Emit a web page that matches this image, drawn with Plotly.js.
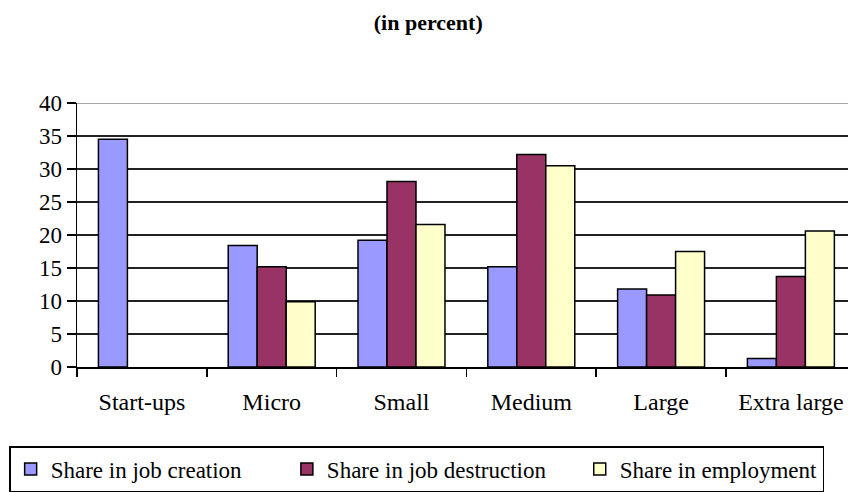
<!DOCTYPE html>
<html>
<head>
<meta charset="utf-8">
<script src="https://cdn.plot.ly/plotly-3.0.1.min.js"></script>
<style>html,body{margin:0;padding:0;background:#fff;}#chart{width:848px;height:492px;}</style>
</head>
<body>
<div id="chart"></div>
<script>
const categories = ["Start-ups", "Micro", "Small", "Medium", "Large", "Extra large"];
const jobCreation = [34.5, 18.4, 19.2, 15.2, 11.8, 1.3];
const jobDestruction = [null, 15.2, 28.1, 32.2, 10.9, 13.7];
const employment = [null, 9.9, 21.6, 30.5, 17.5, 20.6];
const seriesNames = ["Share in job creation", "Share in job destruction", "Share in employment"];
const yTicks = [0, 5, 10, 15, 20, 25, 30, 35, 40];

const serif = "Liberation Serif";
const colors = ["#9999FF", "#993366", "#FFFFCC"];
const values = [jobCreation, jobDestruction, employment];
// trailing non-breaking spaces widen the legend entries to match the reference spacing
const legendPad = [7, 5, 0];

const traces = values.map((v, i) => ({
  type: "bar",
  x: categories,
  y: v,
  name: seriesNames[i] + "\u00a0".repeat(legendPad[i]),
  marker: {color: colors[i], line: {color: "#000", width: 1.5}}
}));

const layout = {
  width: 848, height: 492,
  margin: {l: 77, r: 0, t: 103, b: 119},
  paper_bgcolor: "#fff", plot_bgcolor: "#fff",
  font: {family: serif, size: 23, color: "#000"},
  title: {text: "<b>(in percent)</b>", font: {family: serif, size: 22, color: "#000"}, x: 0.505, xanchor: "center", y: 0.955, yanchor: "middle"},
  barmode: "group",
  bargap: 0.33,
  bargroupgap: 0,
  xaxis: {
    type: "category",
    range: [-0.5, 5.44],
    showline: true, linecolor: "#000", linewidth: 1.5,
    ticks: "outside", ticklen: 8, tickcolor: "#000", tickwidth: 1.5,
    tickson: "boundaries",
    ticklabelstandoff: 13,
    showgrid: false,
    tickfont: {family: serif, size: 24, color: "#000"}
  },
  yaxis: {
    range: [0, 40],
    tickvals: yTicks,
    showline: true, linecolor: "#000", linewidth: 1.5,
    ticks: "outside", ticklen: 9, tickcolor: "#000", tickwidth: 1.5,
    showgrid: true, gridcolor: "#222", gridwidth: 2,
    zeroline: false,
    tickfont: {family: serif, size: 23, color: "#000"}
  },
  shapes: [{type: "line", xref: "paper", yref: "y", x0: 0, x1: 1, y0: 40, y1: 40, line: {color: "#aaa", width: 2}}],
  showlegend: true,
  legend: {
    orientation: "h",
    xref: "paper", yref: "paper",
    x: -0.088, y: -0.3, xanchor: "left", yanchor: "top",
    bordercolor: "#000", borderwidth: 1.5,
    font: {family: serif, size: 23, color: "#000"},
    traceorder: "normal",
    itemwidth: 30
  }
};

Plotly.newPlot("chart", traces, layout, {displayModeBar: false, staticPlot: true});
</script>
</body>
</html>
